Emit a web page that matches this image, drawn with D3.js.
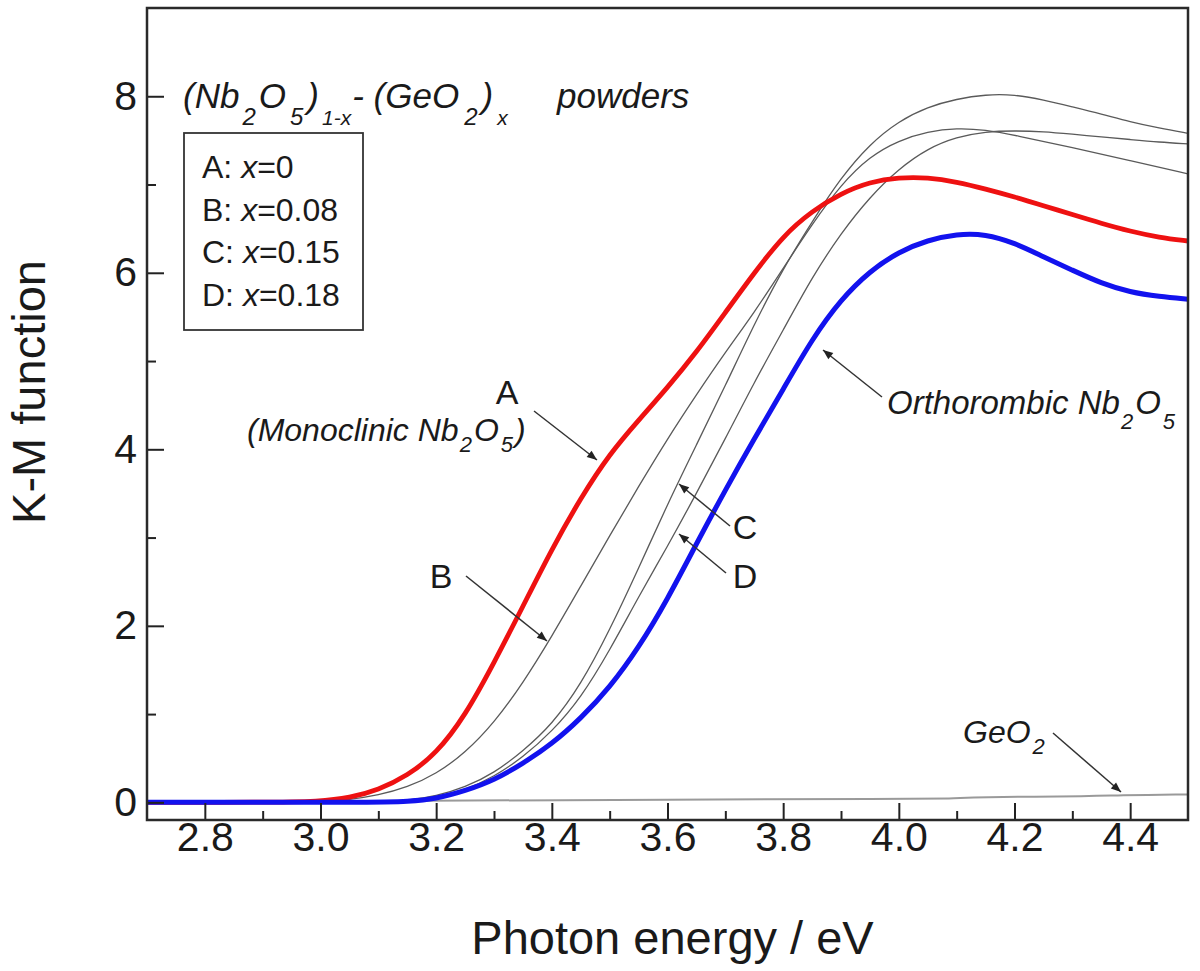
<!DOCTYPE html>
<html><head><meta charset="utf-8">
<script src="https://cdn.jsdelivr.net/npm/d3@7"></script>
<style>
body{margin:0;background:#fff}
text{font-family:"Liberation Sans",Arial,Helvetica,sans-serif;fill:#1a1a1a}
</style>
</head><body>
<svg id="chart" width="1200" height="971"></svg>
<script>
// ---------- data ----------
const energyA = [2.70,2.90,3.00,3.05,3.10,3.15,3.20,3.25,3.30,3.35,3.40,3.45,3.50,3.55,3.60,3.65,3.70,3.75,3.80,3.85,3.90,3.95,4.00,4.05,4.10,4.15,4.20,4.25,4.30,4.35,4.40,4.45,4.50];
const kmA     = [0.00,0.00,0.01,0.05,0.14,0.30,0.55,0.98,1.58,2.22,2.87,3.45,3.95,4.33,4.70,5.10,5.55,6.00,6.42,6.70,6.90,7.03,7.08,7.08,7.03,6.95,6.86,6.76,6.66,6.56,6.47,6.40,6.36];

const energyOrtho = [2.70,3.10,3.15,3.20,3.25,3.30,3.35,3.40,3.45,3.50,3.55,3.60,3.65,3.70,3.75,3.80,3.85,3.90,3.95,4.00,4.05,4.10,4.15,4.20,4.25,4.30,4.35,4.40,4.45,4.50];
const kmOrtho     = [0.00,0.00,0.01,0.04,0.13,0.25,0.44,0.66,0.95,1.30,1.75,2.30,2.93,3.54,4.12,4.68,5.25,5.70,6.02,6.24,6.37,6.44,6.44,6.34,6.18,6.03,5.88,5.78,5.73,5.70];

const energyB = [2.70,3.00,3.05,3.10,3.15,3.20,3.25,3.30,3.35,3.40,3.45,3.50,3.55,3.60,3.65,3.70,3.75,3.80,3.85,3.90,3.95,4.00,4.05,4.10,4.15,4.20,4.30,4.40,4.50];
const kmB     = [0.00,0.00,0.03,0.08,0.17,0.32,0.56,0.90,1.35,1.88,2.45,3.02,3.58,4.12,4.62,5.10,5.55,6.05,6.55,7.00,7.32,7.50,7.60,7.64,7.62,7.56,7.42,7.27,7.12];

const energyC = [2.70,3.10,3.15,3.20,3.25,3.30,3.35,3.40,3.45,3.50,3.55,3.60,3.65,3.70,3.75,3.80,3.85,3.90,3.95,4.00,4.05,4.10,4.15,4.20,4.25,4.30,4.35,4.40,4.45,4.50];
const kmC     = [0.00,0.00,0.02,0.07,0.17,0.33,0.58,0.88,1.33,1.95,2.65,3.38,4.05,4.72,5.42,6.05,6.58,7.08,7.46,7.72,7.88,7.97,8.02,8.02,7.96,7.88,7.80,7.71,7.64,7.58];

const energyD = [2.70,3.10,3.15,3.20,3.25,3.30,3.35,3.40,3.45,3.50,3.55,3.60,3.65,3.70,3.75,3.80,3.85,3.90,3.95,4.00,4.05,4.10,4.15,4.20,4.25,4.30,4.35,4.40,4.45,4.50];
const kmD     = [0.00,0.00,0.01,0.05,0.14,0.29,0.51,0.80,1.18,1.72,2.33,2.90,3.50,4.12,4.76,5.35,5.95,6.45,6.86,7.18,7.41,7.54,7.60,7.61,7.60,7.57,7.54,7.51,7.48,7.46];

const energyGeO2 = [2.70,3.20,3.60,4.00,4.10,4.12,4.35,4.37,4.50];
const kmGeO2     = [0.00,0.02,0.03,0.04,0.04,0.06,0.07,0.08,0.09];

const xTickValues = [2.8,3.0,3.2,3.4,3.6,3.8,4.0,4.2,4.4];
const xMinorValues = [2.9,3.1,3.3,3.5,3.7,3.9,4.1,4.3];
const yTickValues = [0,2,4,6,8];
const yMinorValues = [1,3,5,7];
const legendLines = [["A: ","x","=0"],["B: ","x","=0.08"],["C: ","x","=0.15"],["D: ","x","=0.18"]];

// ---------- chart ----------
const svg = d3.select("#chart");
const L = 147, R = 1188, T = 8, B = 820;
const x = d3.scaleLinear().domain([2.7, 4.5]).range([L, R]);
const y = d3.scaleLinear().domain([-0.2, 9]).range([B, T]);

svg.append("defs").append("clipPath").attr("id","clip")
  .append("rect").attr("x",L).attr("y",T).attr("width",R-L).attr("height",B-T);
svg.select("defs").append("marker").attr("id","arr")
  .attr("viewBox","0 0 10 10").attr("refX",10).attr("refY",5)
  .attr("markerWidth",14).attr("markerHeight",10).attr("markerUnits","userSpaceOnUse")
  .attr("orient","auto")
  .append("path").attr("d","M0,1 L10,5 L0,9 Z").attr("fill","#222");

const line = d3.line().x(d=>x(d[0])).y(d=>y(d[1])).curve(d3.curveBasis);
const zip = (a,b)=>a.map((v,i)=>[v,b[i]]);

const plot = svg.append("g").attr("clip-path","url(#clip)");
plot.append("path").datum(zip(energyGeO2,kmGeO2)).attr("d",line)
  .attr("fill","none").attr("stroke","#9a9a9a").attr("stroke-width",2);
[[energyB,kmB],[energyC,kmC],[energyD,kmD]].forEach(([e,k])=>{
  plot.append("path").datum(zip(e,k)).attr("d",line)
    .attr("fill","none").attr("stroke","#5a5a5a").attr("stroke-width",1.3);
});
plot.append("path").datum(zip(energyA,kmA)).attr("d",line)
  .attr("fill","none").attr("stroke","#ee1111").attr("stroke-width",4.8);
plot.append("path").datum(zip(energyOrtho,kmOrtho)).attr("d",line)
  .attr("fill","none").attr("stroke","#1212ee").attr("stroke-width",5);

// axes
function styleAxis(g){
  g.select(".domain").remove();
  g.selectAll(".tick line").attr("stroke","#222").attr("stroke-width",2);
  g.selectAll(".tick text").attr("font-size",41).attr("fill","#1a1a1a")
    .attr("font-family","'Liberation Sans',Arial,sans-serif");
}
svg.append("g").attr("transform",`translate(0,${B})`)
  .call(d3.axisBottom(x).tickValues(xTickValues).tickSize(-17).tickPadding(2).tickFormat(d3.format(".1f")))
  .call(styleAxis);
svg.append("g").attr("transform",`translate(0,${B})`)
  .call(d3.axisBottom(x).tickValues(xMinorValues).tickSize(-9).tickFormat(""))
  .call(styleAxis);
svg.append("g").attr("transform",`translate(${L},0)`)
  .call(d3.axisLeft(y).tickValues(yTickValues).tickSize(-17).tickPadding(10).tickFormat(d3.format("d")))
  .call(styleAxis);
svg.append("g").attr("transform",`translate(${L},0)`)
  .call(d3.axisLeft(y).tickValues(yMinorValues).tickSize(-9).tickFormat(""))
  .call(styleAxis);

// frame
svg.append("rect").attr("x",L).attr("y",T).attr("width",R-L).attr("height",B-T)
  .attr("fill","none").attr("stroke","#2a2a2a").attr("stroke-width",2.5);

// axis titles
svg.append("text").attr("x",(L+R)/2+5).attr("y",954).attr("text-anchor","middle")
  .attr("font-size",47).text("Photon energy / eV");
svg.append("text").attr("transform","translate(45,392) rotate(-90)").attr("text-anchor","middle")
  .attr("font-size",47).text("K-M function");

// rich text helper
function rich(xp, yp, size, italic, parts){
  const t = svg.append("text").attr("x",xp).attr("y",yp).attr("font-size",size)
    .attr("font-style", italic ? "italic" : "normal");
  let shifted = 0;
  parts.forEach(p=>{
    const ts = t.append("tspan").text(p.t);
    const target = p.sub ? p.sub : 0;
    ts.attr("dy", target - shifted); shifted = target;
    if (p.sub) ts.attr("font-size", p.size || size*0.68);
    if (p.dx) ts.attr("dx", p.dx);
    if (p.x !== undefined) ts.attr("x", p.x);
  });
  return t;
}

// title
rich(183,108,35,true,[
  {t:"(Nb"},{t:"2",sub:17,size:24,dx:3},{t:"O",dx:3},{t:"5",sub:17,size:24,dx:4},{t:")",dx:4},
  {t:"1-x",sub:17,size:21,dx:3},{t:"- (GeO",dx:1},{t:"2",sub:17,size:24,dx:5},{t:")",dx:4},{t:"x",sub:17,size:21,dx:4},
  {t:"powders",x:557}
]);

// legend box
svg.append("rect").attr("x",184).attr("y",133).attr("width",179).attr("height",197)
  .attr("fill","#fff").attr("stroke","#333").attr("stroke-width",1.8);
legendLines.forEach((p,i)=>{
  const t = svg.append("text").attr("x",202).attr("y",178+i*42.5).attr("font-size",32);
  t.append("tspan").text(p[0]);
  t.append("tspan").attr("font-style","italic").text(p[1]);
  t.append("tspan").text(p[2]);
});

// annotations
function arrow(x1,y1,x2,y2){
  svg.append("line").attr("x1",x1).attr("y1",y1).attr("x2",x2).attr("y2",y2)
    .attr("stroke","#333").attr("stroke-width",1.5).attr("marker-end","url(#arr)");
}
svg.append("text").attr("x",507).attr("y",404).attr("text-anchor","middle").attr("font-size",34).text("A");
rich(247,441,32,true,[{t:"(Monoclinic Nb"},{t:"2",sub:11,size:22,dx:1},{t:"O",dx:2},{t:"5",sub:11,size:22,dx:2},{t:")",dx:2}]);
arrow(534,411,597,460);

svg.append("text").attr("x",441).attr("y",588).attr("text-anchor","middle").attr("font-size",34).text("B");
arrow(466,576,547,641);

svg.append("text").attr("x",745).attr("y",539).attr("text-anchor","middle").attr("font-size",34).text("C");
arrow(730,526,679,484);
svg.append("text").attr("x",745).attr("y",588).attr("text-anchor","middle").attr("font-size",34).text("D");
arrow(726,573,679,534);

rich(887,414,33,true,[{t:"Orthorombic Nb"},{t:"2",sub:15,size:22,dx:1},{t:"O",dx:2},{t:"5",sub:15,size:22,dx:2}]);
arrow(882,397,823,350);

rich(963,743,32,true,[{t:"GeO"},{t:"2",sub:11,size:22,dx:2}]);
arrow(1053,733,1121,792);
</script>
</body></html>
